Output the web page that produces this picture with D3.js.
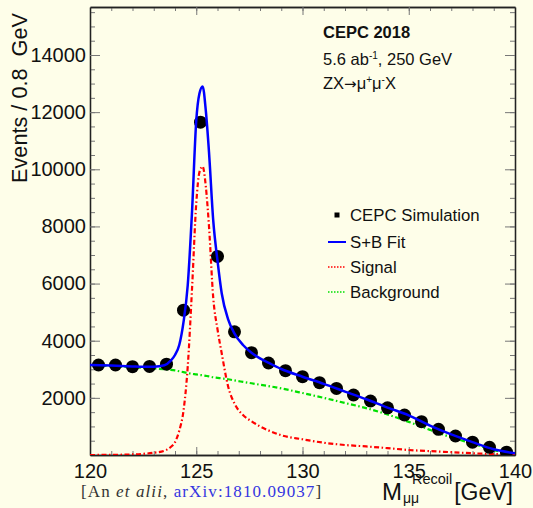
<!DOCTYPE html>
<html>
<head>
<meta charset="utf-8">
<script src="https://d3js.org/d3.v7.min.js"></script>
<style>
  html, body { margin: 0; padding: 0; background: #fefee9; }
  svg { display: block; font-family: "Liberation Sans", Arial, sans-serif; }
</style>
</head>
<body>
<script>
// histogram bins (0.8 GeV wide) and counts
var binCenters = [120.4, 121.2, 122.0, 122.8, 123.6, 124.4, 125.2, 126.0, 126.8, 127.6,
  128.4, 129.2, 130.0, 130.8, 131.6, 132.4, 133.2, 134.0, 134.8, 135.6,
  136.4, 137.2, 138.0, 138.8, 139.6];
var eventCounts = [3150, 3150, 3090, 3100, 3180, 5070, 11650, 6950, 4310, 3580,
  3220, 2950, 2740, 2530, 2330, 2100, 1890, 1650, 1400, 1165,
  898, 664, 450, 268, 100];

// curves at these masses
var curveX = [120, 121, 122, 122.5, 123, 123.5, 123.8, 124.0, 124.2, 124.4,
  124.6, 124.8, 125.0, 125.15, 125.3, 125.45, 125.6, 125.8, 126.0, 126.2,
  126.5, 126.8, 127.2, 127.6, 128.0, 128.5, 129, 130, 131, 132,
  133, 134, 135, 136, 137, 138, 139, 140];
var fitY = [3150, 3130, 3100, 3090, 3090, 3140, 3300, 3500, 3850, 4650,
  5950, 8500, 11700, 12650, 12900, 12050, 10600, 8200, 6800, 5650,
  4750, 4250, 3850, 3580, 3380, 3190, 3010, 2740, 2490, 2220,
  1950, 1660, 1390, 1030, 720, 450, 200, 60];
var signalY = [0, 5, 20, 40, 80, 150, 280, 450, 850, 1550,
  3100, 5800, 8800, 9900, 10100, 9400, 8000, 5500, 4400, 3550,
  2400, 1800, 1400, 1180, 1000, 830, 690, 550, 430, 350,
  300, 240, 175, 135, 100, 60, 35, 15];
var backgroundY = [3150, 3110, 3070, 3050, 3030, 3000, 2980, 2960, 2930, 2900,
  2870, 2840, 2820, 2800, 2790, 2770, 2750, 2720, 2700, 2680,
  2650, 2610, 2560, 2510, 2460, 2400, 2330, 2170, 2000, 1820,
  1640, 1420, 1160, 880, 620, 400, 170, 30];

var xTicks = [120, 125, 130, 135, 140];
var yTicks = [2000, 4000, 6000, 8000, 10000, 12000, 14000];

var W = 533, H = 508;
var margin = { top: 7, right: 18, bottom: 53, left: 90 };
var w = W - margin.left - margin.right;
var h = H - margin.top - margin.bottom;

var svg = d3.select('body').append('svg').attr('width', W).attr('height', H);
svg.append('rect').attr('width', W).attr('height', H).attr('fill', '#fefee9');

var g = svg.append('g').attr('transform', 'translate(' + margin.left + ',' + margin.top + ')');

var x = d3.scaleLinear().domain([120, 140]).range([0, w]);
var y = d3.scaleLinear().domain([0, 15680]).range([h, 0]);

g.append('defs').append('clipPath').attr('id', 'clip')
  .append('rect').attr('width', w).attr('height', h);

// minor ticks on all four sides
var xMinor = d3.range(120, 140.01, 1);
var yMinor = d3.range(0, 15680, 500);
function styleAxis(sel) {
  sel.selectAll('.tick line').attr('stroke', '#777');
  sel.select('.domain').attr('stroke', '#222').attr('stroke-width', 1.3);
  sel.selectAll('text').attr('fill', '#111').style('font-size', '20px')
    .style('font-family', '"Liberation Sans", Arial, sans-serif');
}
g.append('g').attr('transform', 'translate(0,' + h + ')')
  .call(d3.axisBottom(x).tickValues(xMinor).tickSize(-4).tickSizeOuter(0).tickFormat(''))
  .call(styleAxis);
g.append('g')
  .call(d3.axisTop(x).tickValues(xMinor).tickSize(-4).tickSizeOuter(0).tickFormat(''))
  .call(styleAxis);
g.append('g')
  .call(d3.axisLeft(y).tickValues(yMinor).tickSize(-5).tickSizeOuter(0).tickFormat(''))
  .call(styleAxis);
g.append('g').attr('transform', 'translate(' + w + ',0)')
  .call(d3.axisRight(y).tickValues(yMinor).tickSize(-5).tickSizeOuter(0).tickFormat(''))
  .call(styleAxis);

// major ticks with labels
g.append('g').attr('transform', 'translate(0,' + h + ')')
  .call(d3.axisBottom(x).tickValues(xTicks).tickSize(-8).tickSizeOuter(0).tickPadding(9).tickFormat(d3.format('d')))
  .call(styleAxis);
g.append('g')
  .call(d3.axisTop(x).tickValues(xTicks).tickSize(-8).tickSizeOuter(0).tickFormat(''))
  .call(styleAxis);
g.append('g')
  .call(d3.axisLeft(y).tickValues(yTicks).tickSize(-10).tickSizeOuter(0).tickPadding(4).tickFormat(d3.format('d')))
  .call(styleAxis);
g.append('g').attr('transform', 'translate(' + w + ',0)')
  .call(d3.axisRight(y).tickValues(yTicks).tickSize(-10).tickSizeOuter(0).tickFormat(''))
  .call(styleAxis);

// curves
var plot = g.append('g').attr('clip-path', 'url(#clip)');
function curvePath(vals) {
  return d3.line()
    .x(function (d, i) { return x(curveX[i]); })
    .y(function (d) { return y(d); })
    .curve(d3.curveMonotoneX)(vals);
}
plot.append('path').attr('d', curvePath(backgroundY))
  .attr('fill', 'none').attr('stroke', '#00e000').attr('stroke-width', 2.2)
  .attr('stroke-dasharray', '5,2.5,1.5,2.5');
plot.append('path').attr('d', curvePath(signalY))
  .attr('fill', 'none').attr('stroke', '#ff0000').attr('stroke-width', 2.2)
  .attr('stroke-dasharray', '5,2.5,1.5,2.5');

plot.selectAll('circle.pt')
  .data(binCenters)
  .enter()
  .append('circle')
  .attr('class', 'pt')
  .attr('cx', function (d) { return x(d); })
  .attr('cy', function (d, i) { return y(eventCounts[i]); })
  .attr('r', 6.5)
  .attr('fill', '#000');

plot.append('path').attr('d', curvePath(fitY))
  .attr('fill', 'none').attr('stroke', '#0000ff').attr('stroke-width', 2.5);

// axis titles
svg.append('text')
  .attr('transform', 'translate(27,13) rotate(-90)')
  .attr('text-anchor', 'end')
  .style('font-size', '21.7px').style('white-space', 'pre').attr('fill', '#111')
  .text('Events / 0.8  GeV');

svg.append('text').attr('x', 382).attr('y', 500).style('font-size', '24px').attr('fill', '#111').text('M');
svg.append('text').attr('x', 412).attr('y', 484).style('font-size', '14.5px').attr('fill', '#111').text('Recoil');
svg.append('text').attr('x', 403).attr('y', 503).style('font-size', '14px').attr('fill', '#111').text('μμ');
svg.append('text').attr('x', 513).attr('y', 500).attr('text-anchor', 'end').style('font-size', '23px').attr('fill', '#111').text('[GeV]');

// labels
svg.append('text').attr('x', 323).attr('y', 37.5).style('font-size', '16.5px').style('font-weight', 'bold')
  .attr('fill', '#111').text('CEPC 2018');
var lumi = svg.append('text').attr('x', 323).attr('y', 65).style('font-size', '16.5px').attr('fill', '#111');
lumi.append('tspan').text('5.6 ab');
lumi.append('tspan').attr('dy', -6).style('font-size', '10px').text('-1');
lumi.append('tspan').attr('dy', 6).text(', 250 GeV');
var proc = svg.append('text').attr('x', 323).attr('y', 89).style('font-size', '16.5px').attr('fill', '#111');
proc.append('tspan').text('ZX');
proc.append('tspan').style('font-family', '"DejaVu Sans", sans-serif').style('font-size', '15px').text('→');
proc.append('tspan').text('μ');
proc.append('tspan').attr('dy', -6).style('font-size', '10px').text('+');
proc.append('tspan').attr('dy', 6).text('μ');
proc.append('tspan').attr('dy', -6).style('font-size', '10px').text('-');
proc.append('tspan').attr('dy', 6).text('X');

// legend
var legendNames = ['CEPC Simulation', 'S+B Fit', 'Signal', 'Background'];
var legendY = [215, 242, 267, 292];
var leg = svg.append('g');
leg.append('rect').attr('x', 334.5).attr('y', legendY[0] - 2.5).attr('width', 5).attr('height', 5).attr('fill', '#000');
leg.append('line').attr('x1', 328).attr('x2', 346).attr('y1', legendY[1]).attr('y2', legendY[1])
  .attr('stroke', '#0000ff').attr('stroke-width', 2);
leg.append('line').attr('x1', 328).attr('x2', 346).attr('y1', legendY[2]).attr('y2', legendY[2])
  .attr('stroke', '#ff0000').attr('stroke-width', 1.5).attr('stroke-dasharray', '1.5,1.5');
leg.append('line').attr('x1', 328).attr('x2', 346).attr('y1', legendY[3]).attr('y2', legendY[3])
  .attr('stroke', '#00e000').attr('stroke-width', 1.5).attr('stroke-dasharray', '1.5,1.5');
leg.selectAll('text.lg')
  .data(legendNames)
  .enter()
  .append('text')
  .attr('class', 'lg')
  .attr('x', 350)
  .attr('y', function (d, i) { return legendY[i] + 6; })
  .style('font-size', '16.8px')
  .attr('fill', '#111')
  .text(function (d) { return d; });

// citation
var cite = svg.append('text').attr('x', 81).attr('y', 497)
  .style('font-family', '"Liberation Serif", "DejaVu Serif", serif').style('font-size', '17px')
  .style('letter-spacing', '1.1px')
  .style('white-space', 'pre').attr('fill', '#333');
cite.append('tspan').text('[An ');
cite.append('tspan').style('font-style', 'italic').text('et alii');
cite.append('tspan').text(', ');
cite.append('tspan').attr('fill', '#3535e0').text('arXiv:1810.09037');
cite.append('tspan').text(']');
</script>
</body>
</html>
